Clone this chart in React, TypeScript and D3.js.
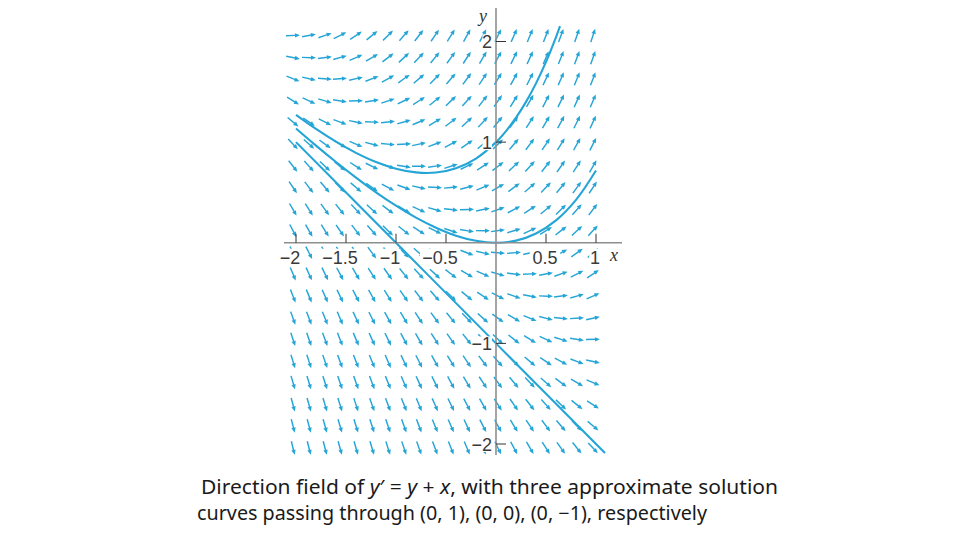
import React from "react";
import * as d3 from "d3";

// Grid of direction-field sample points
const X_GRID = [-2.03, -1.87, -1.71, -1.56, -1.4, -1.24, -1.08, -0.92, -0.77, -0.61, -0.45, -0.29, -0.13, 0.02, 0.18, 0.34, 0.5, 0.65, 0.81, 0.97];
const Y_GRID = [-2.04, -1.82, -1.61, -1.39, -1.18, -0.96, -0.75, -0.53, -0.31, -0.1, 0.12, 0.33, 0.55, 0.76, 0.98, 1.2, 1.41, 1.63, 1.84, 2.06];

// Solution curve through (0, 1)
const CURVE_A_X = [-2, -1.8, -1.6, -1.4, -1.2, -1.0, -0.8, -0.6, -0.4, -0.2, 0, 0.1, 0.2, 0.3, 0.4, 0.5, 0.6, 0.64];
const CURVE_A_Y = [1.271, 1.131, 1.004, 0.893, 0.802, 0.736, 0.699, 0.698, 0.741, 0.837, 1.0, 1.11, 1.243, 1.4, 1.584, 1.797, 2.044, 2.153];
// Solution curve through (0, 0)
const CURVE_B_X = [-2, -1.8, -1.6, -1.4, -1.2, -1.0, -0.8, -0.6, -0.4, -0.2, 0, 0.2, 0.4, 0.6, 0.8, 1.0];
const CURVE_B_Y = [1.135, 0.965, 0.802, 0.647, 0.501, 0.368, 0.249, 0.149, 0.07, 0.019, 0, 0.021, 0.092, 0.222, 0.426, 0.718];
// Solution curve through (0, -1)
const CURVE_C_X = [-2, -1, 0, 1.09];
const CURVE_C_Y = [1, 0, -1, -2.09];

const X_TICKS = [-2, -1.5, -1, -0.5, 0.5, 1];
const X_TICK_LABELS = ["−2", "−1.5", "−1", "−0.5", "0.5", "1"];
const Y_TICKS = [-2, -1, 1, 2];
const Y_TICK_LABELS = ["−2", "−1", "1", "2"];

const slope = (x: number, y: number) => y + x;

const BLUE = "#25a5d6";
const LABEL_FONT = "'Liberation Sans', Arial, sans-serif";

export default function App() {
  const xs = d3.scaleLinear().domain([-2, 1]).range([296, 596]);
  const ys = d3.scaleLinear().domain([-2, 2]).range([444, 41.5]);
  const kx = xs(1) - xs(0);
  const ky = ys(0) - ys(1);

  const L = 14;
  const arrows: JSX.Element[] = [];
  Y_GRID.forEach((gy, j) => {
    X_GRID.forEach((gx, i) => {
      const s = slope(gx, gy);
      let dx = kx;
      let dy = -s * ky;
      const n = Math.hypot(dx, dy);
      dx /= n;
      dy /= n;
      const cx = xs(gx);
      const cy = ys(gy);
      const x1 = cx - (dx * L) / 2;
      const y1 = cy - (dy * L) / 2;
      const x2 = cx + (dx * L) / 2;
      const y2 = cy + (dy * L) / 2;
      const hl = 5;
      const hw = 2.2;
      const bx = x2 - dx * hl;
      const by = y2 - dy * hl;
      const px = -dy;
      const py = dx;
      arrows.push(
        <g key={`a${i}-${j}`}>
          <line x1={x1} y1={y1} x2={bx + dx * 0.5} y2={by + dy * 0.5} stroke={BLUE} strokeWidth={1.45} />
          <path
            d={`M${x2},${y2}L${bx + px * hw},${by + py * hw}L${bx - px * hw},${by - py * hw}Z`}
            fill={BLUE}
          />
        </g>
      );
    });
  });

  const line = d3
    .line<[number, number]>()
    .x((d) => xs(d[0]))
    .y((d) => ys(d[1]))
    .curve(d3.curveCatmullRom.alpha(0.5));
  const toPts = (X: number[], Y: number[]) => X.map((x, i) => [x, Y[i]] as [number, number]);

  const axisColor = "#8e8e8e";
  const y0 = ys(0);
  const x0 = xs(0);

  return (
    <svg
      width={960}
      height={540}
      style={{ position: "absolute", left: 0, top: 0, background: "#fff" }}
    >
      <rect x={0} y={0} width={960} height={540} fill="#fff" />
      {arrows}
      <path d={line(toPts(CURVE_A_X, CURVE_A_Y)) || ""} fill="none" stroke={BLUE} strokeWidth={2.1} />
      <path d={line(toPts(CURVE_B_X, CURVE_B_Y)) || ""} fill="none" stroke={BLUE} strokeWidth={2.1} />
      <path d={line(toPts(CURVE_C_X, CURVE_C_Y)) || ""} fill="none" stroke={BLUE} strokeWidth={2.1} />

      {/* axes */}
      <line x1={284} x2={622} y1={y0} y2={y0} stroke={axisColor} strokeWidth={1.6} />
      <line x1={x0} x2={x0} y1={8} y2={455} stroke={axisColor} strokeWidth={1.6} />

      {X_TICKS.map((t) => (
        <line key={`xt${t}`} x1={xs(t)} x2={xs(t)} y1={y0} y2={y0 - 9} stroke="#333" strokeWidth={1} />
      ))}
      {X_TICKS.map((t, i) => {
        const label = X_TICK_LABELS[i];
        const cx = xs(t) + (t < 0 ? -6 : -1);
        const w = label.length * 9.5;
        return (
          <g key={`xl${t}`}>
            <rect x={cx - w / 2 - 1} y={y0 + 6} width={w + 2} height={16} fill="#fff" />
            <text x={cx} y={y0 + 21} textAnchor="middle" fontFamily={LABEL_FONT} fontSize={18} fill="#3a3a3a">
              {label}
            </text>
          </g>
        );
      })}
      {Y_TICKS.map((t, i) => {
        const label = Y_TICK_LABELS[i];
        const w = label.length * 9.5;
        return (
          <g key={`yt${t}`}>
            <line x1={x0} x2={x0 + 10} y1={ys(t)} y2={ys(t)} stroke="#333" strokeWidth={1} />
            <rect x={492 - w} y={ys(t) - 7} width={w} height={15} fill="#fff" />
            <text x={492} y={ys(t) + 6.5} textAnchor="end" fontFamily={LABEL_FONT} fontSize={18} fill="#3a3a3a">
              {label}
            </text>
          </g>
        );
      })}
      <text x={610} y={261} fontFamily="'Liberation Serif', serif" fontStyle="italic" fontSize={18} fill="#333">
        x
      </text>
      <text x={479} y={22} fontFamily="'Liberation Serif', serif" fontStyle="italic" fontSize={18} fill="#333">
        y
      </text>

      {/* caption */}
      <text
        x={201}
        y={494}
        fontFamily="'Noto Sans', sans-serif"
        fontSize={19}
        fill="#1a1a1a"
        textLength={577}
        lengthAdjust="spacingAndGlyphs"
      >
        <tspan>Direction field of </tspan>
        <tspan fontStyle="italic">y</tspan>
        <tspan>′ = </tspan>
        <tspan fontStyle="italic">y</tspan>
        <tspan> + </tspan>
        <tspan fontStyle="italic">x</tspan>
        <tspan>, with three approximate solution</tspan>
      </text>
      <text
        x={197}
        y={520}
        fontFamily="'Noto Sans', sans-serif"
        fontSize={19}
        fill="#1a1a1a"
        textLength={510}
        lengthAdjust="spacingAndGlyphs"
      >
        curves passing through (0, 1), (0, 0), (0, −1), respectively
      </text>
    </svg>
  );
}
